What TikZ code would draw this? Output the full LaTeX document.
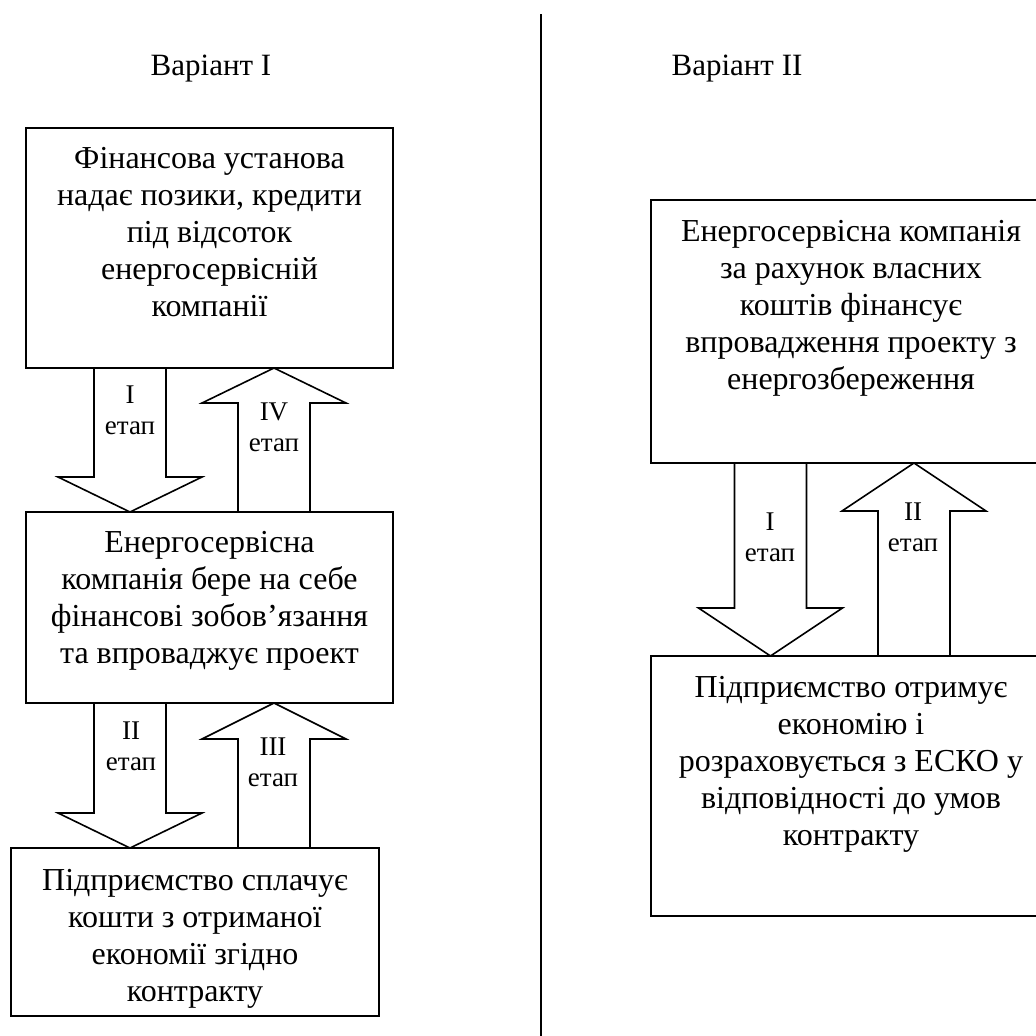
\documentclass[tikz,border=0pt]{standalone}
\usepackage{fontspec}
\setmainfont{Liberation Serif}
\usetikzlibrary{calc}
\newcommand{\fl}{\rule{0pt}{23pt}}
\newcommand{\fs}{\rule{0pt}{20pt}}
\tikzset{
  boxnode/.style={draw, line width=1.6pt, rectangle, inner sep=0pt, outer sep=0pt},
  boxtext/.style={align=center, anchor=north, inner sep=0pt, font=\fontsize{32}{37}\selectfont},
  arrtext/.style={align=center, anchor=north, inner sep=0pt, font=\fontsize{27}{31}\selectfont},
  titletext/.style={anchor=base, inner sep=0pt, font=\fontsize{31}{36.5}\selectfont},
  blk/.style={line width=1.6pt, line join=miter},
}
\newcommand{\blkdown}[3]{% start (on upper box), tip (on lower box), head length
  \draw[blk] ($(#1)+(-36,0)$) -- ($(#2)+(-36,-#3)$) -- ($(#2)+(-72,-#3)$) -- (#2)
     -- ($(#2)+(72,-#3)$) -- ($(#2)+(36,-#3)$) -- ($(#1)+(36,0)$);}
\newcommand{\blkup}[3]{% start (on lower box), tip (on upper box), head length
  \draw[blk] ($(#1)+(-36,0)$) -- ($(#2)+(-36,#3)$) -- ($(#2)+(-72,#3)$) -- (#2)
     -- ($(#2)+(72,#3)$) -- ($(#2)+(36,#3)$) -- ($(#1)+(36,0)$);}
\begin{document}
\begin{tikzpicture}[x=1pt,y=-1pt]
\useasboundingbox (0,0) rectangle (1036,1036);
\clip (0,0) rectangle (1036,1036);
\fill[white] (0,0) rectangle (1036,1036);

% titles and divider
\node[titletext] (t1) at (211,75) {Варіант I};
\node[titletext] (t2) at (737,75) {Варіант II};
\draw[line width=1.6pt] (541,14) -- (541,1036);

% left column boxes
\node[boxnode, minimum width=367, minimum height=240] (b1) at (209.5,248) {};
\node[boxnode, minimum width=367, minimum height=191] (b2) at (209.5,607.5) {};
\node[boxnode, minimum width=368, minimum height=168] (b3) at (195,932) {};

\node[boxtext] (b1t) at ($(b1.north)+(0,17)$) {\fl Фінансова установа\\надає позики, кредити\\під відсоток\\енергосервісній\\компанії};
\node[boxtext] (b2t) at ($(b2.north)+(0,17)$) {\fl Енергосервісна\\компанія бере на себе\\фінансові зобов’язання\\та впроваджує проект};
\node[boxtext] (b3t) at ($(b3.north)+(0,19)$) {\fl Підприємство сплачує\\кошти з отриманої\\економії згідно\\контракту};

% right column boxes
\node[boxnode, minimum width=400, minimum height=263] (r1) at (851,331.5) {};
\node[boxnode, minimum width=400, minimum height=260] (r2) at (851,786) {};

\node[boxtext] (r1t) at ($(r1.north)+(0,18)$) {\fl Енергосервісна компанія\\за рахунок власних\\коштів фінансує\\впровадження проекту з\\енергозбереження};
\node[boxtext] (r2t) at ($(r2.north)+(0,18)$) {\fl Підприємство отримує\\економію і\\розраховується з ЕСКО у\\відповідності до умов\\контракту};

% arrow positions
\path (130,0) coordinate (xa) (274,0) coordinate (xb) (770.5,0) coordinate (xc) (914,0) coordinate (xd);
\coordinate (a1s) at (b1.south -| xa); \coordinate (a1t) at (b2.north -| xa);
\coordinate (a4s) at (b2.north -| xb); \coordinate (a4t) at (b1.south -| xb);
\coordinate (a2s) at (b2.south -| xa); \coordinate (a2t) at (b3.north -| xa);
\coordinate (a3s) at (b3.north -| xb); \coordinate (a3t) at (b2.south -| xb);
\coordinate (c1s) at (r1.south -| xc); \coordinate (c1t) at (r2.north -| xc);
\coordinate (c2s) at (r2.north -| xd); \coordinate (c2t) at (r1.south -| xd);

\blkdown{a1s}{a1t}{35}
\blkup{a4s}{a4t}{35}
\blkdown{a2s}{a2t}{35}
\blkup{a3s}{a3t}{36}
\blkdown{c1s}{c1t}{48}
\blkup{c2s}{c2t}{48}

% arrow labels
\node[arrtext] (l1) at (130,383) {\fs I\\етап};
\node[arrtext] (l4) at (274,400) {\fs IV\\етап};
\node[arrtext] (l2) at (131,719) {\fs II\\етап};
\node[arrtext] (l3) at (273,735) {\fs III\\етап};
\node[arrtext] (m1) at (770,510) {\fs I\\етап};
\node[arrtext] (m2) at (913,500) {\fs II\\етап};
\end{tikzpicture}
\end{document}
